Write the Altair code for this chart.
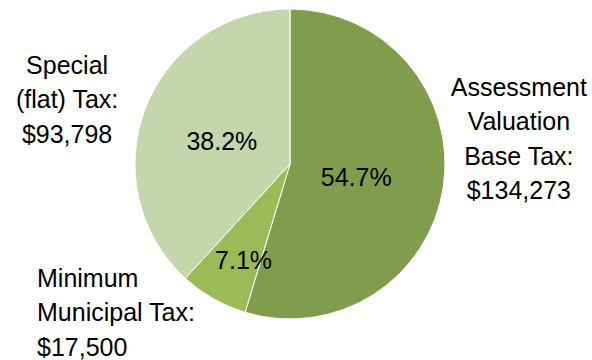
import altair as alt
import pandas as pd

categories = ["Assessment Valuation Base Tax", "Minimum Municipal Tax", "Special (flat) Tax"]
values = [134273, 17500, 93798]
label_lines = [["Assessment", "Valuation", "Base Tax:"],
               ["Minimum", "Municipal Tax:"],
               ["Special", "(flat) Tax:"]]
colors = ["#809D4E", "#9BBB59", "#C5D6AD"]

df = pd.DataFrame({"category": categories, "value": values, "order": list(range(len(categories)))})
df["label"] = [lines + [f"${v:,}"] for lines, v in zip(label_lines, values)]

base = alt.Chart(df).encode(
    theta=alt.Theta("value:Q", stack=True),
    order=alt.Order("order:Q"),
)

pie = base.mark_arc(outerRadius=155, stroke="white", strokeWidth=1).encode(
    color=alt.Color("category:N", scale=alt.Scale(domain=categories, range=colors), legend=None)
)

PCT_FONT = "Liberation Sans Narrow, Liberation Sans"
LBL_FONT = "Liberation Sans"
LINE_H = 34.5


def pct_layer(cat, radius, dx, dy):
    return base.transform_joinaggregate(total="sum(value)").transform_calculate(
        t=f"datum.category == '{cat}' ? format(datum.value / datum.total, '.1%') : ''"
    ).mark_text(radius=radius, dx=dx, dy=dy, align="center", baseline="middle",
                font=PCT_FONT, fontSize=25, color="black").encode(text="t:N")


def outer_layer(cat, n_lines, dx, dy, align, size=25):
    return base.transform_calculate(
        t=f"datum.category == '{cat}' ? datum.label : ''"
    ).mark_text(radius=200, dx=dx, dy=dy - (n_lines - 1) * LINE_H / 2, align=align,
                baseline="middle", lineHeight=LINE_H, font=LBL_FONT, fontSize=size,
                color="black").encode(text="t:N")


chart = alt.layer(
    pie,
    pct_layer(categories[0], 68, -1, 4.5),
    pct_layer(categories[1], 107, 6.5, 3.6),
    pct_layer(categories[2], 71, -2, 4),
    outer_layer(categories[0], 4, 31, -54, "center"),
    outer_layer(categories[1], 3, -154, -24.5, "left"),
    outer_layer(categories[2], 3, -36.5, 8.8, "center"),
).properties(
    width=580, height=328,
    padding={"left": 0, "top": 0, "right": 12, "bottom": 32},
    autosize="none",
    background="white",
).configure_view(stroke=None)

chart.save("out.html", embed_options={"renderer": "svg", "actions": False})
